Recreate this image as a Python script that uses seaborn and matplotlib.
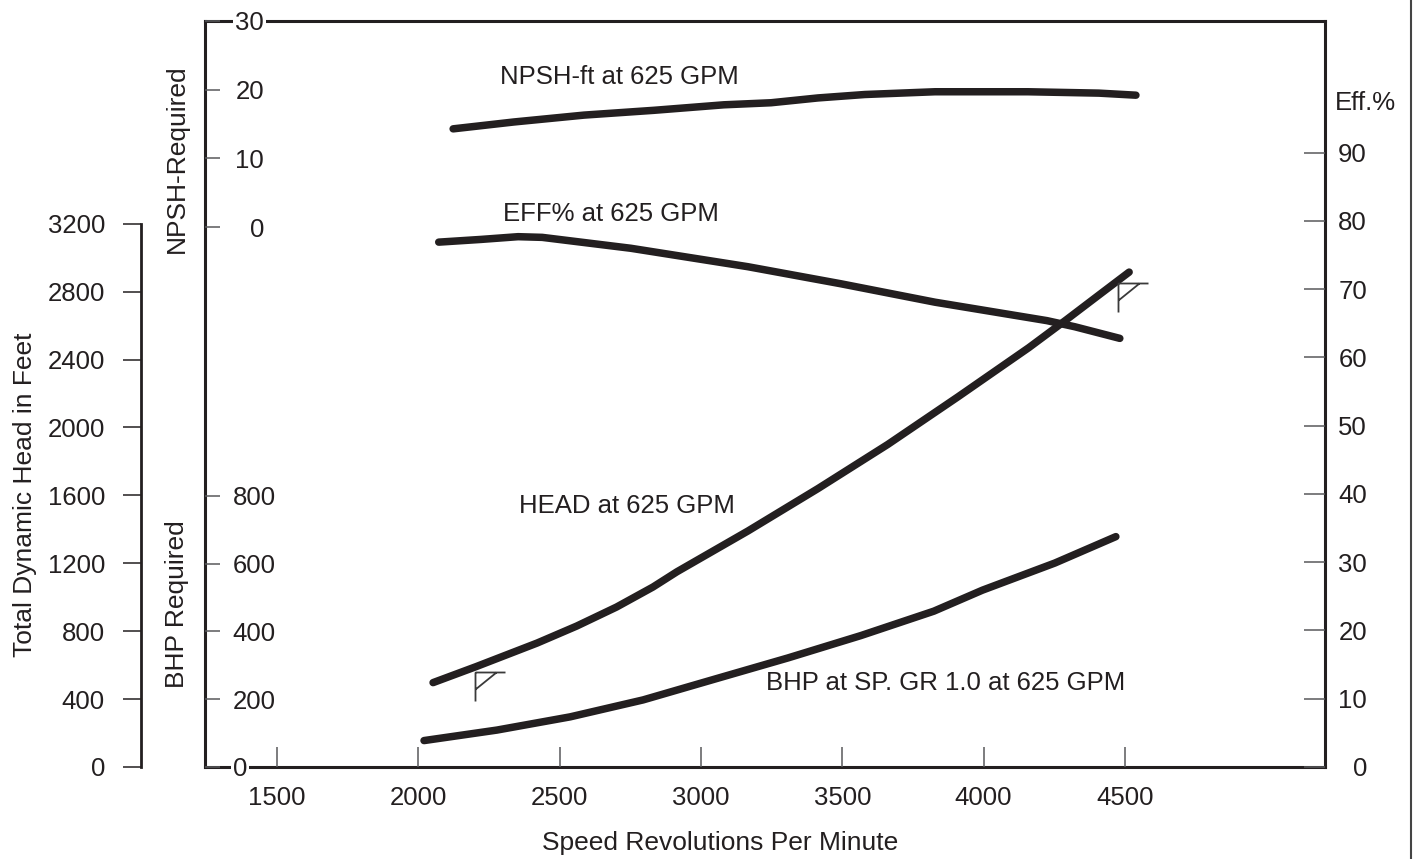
import matplotlib
matplotlib.use("Agg")
import matplotlib.pyplot as plt
from matplotlib.path import Path
from matplotlib.lines import Line2D
import seaborn as sns

# Pump performance at 625 GPM against shaft speed
npsh_rpm = [2123, 2338, 2586, 2834, 3081, 3248, 3414, 3580, 3828, 4157, 4408, 4539]
npsh_ft = [14.3, 15.3, 16.3, 17.0, 17.8, 18.1, 18.8, 19.3, 19.7, 19.7, 19.5, 19.2]

eff_rpm = [2072, 2222, 2353, 2438, 2752, 3166, 3495, 3828, 4224, 4323, 4482]
eff_pct = [76.9, 77.3, 77.7, 77.6, 76.0, 73.3, 70.8, 68.1, 65.4, 64.5, 62.8]

head_rpm = [2052, 2204, 2420, 2560, 2701, 2830, 2915, 3166, 3414, 3661, 3909, 4160, 4291, 4408, 4515]
head_ft = [497, 591, 730, 830, 942, 1060, 1150, 1390, 1640, 1900, 2180, 2470, 2632, 2780, 2915]

bhp_rpm = [2020, 2278, 2537, 2795, 3051, 3308, 3566, 3824, 3996, 4252, 4468]
bhp_hp = [78, 109, 148, 198, 260, 322, 388, 460, 522, 602, 680]

# operating-limit flags on the head curve
flag_rpm = [2200, 4475]
flag_head = [560, 2850]

speed_ticks = [1500, 2000, 2500, 3000, 3500, 4000, 4500]
npsh_ticks = [0, 10, 20, 30]
bhp_ticks = [0, 200, 400, 600, 800]
eff_ticks = [0, 10, 20, 30, 40, 50, 60, 70, 80, 90]
head_ticks = [0, 400, 800, 1200, 1600, 2000, 2400, 2800, 3200]

sns.set_theme(style="white")
plt.rcParams["font.family"] = ["Liberation Sans", "DejaVu Sans"]

INK = "#231f20"
TICK = "#58595b"
FS = 18.5

W, H = 1414, 859
fig = plt.figure(figsize=(W / 100, H / 100), dpi=100)
ax = fig.add_axes([205 / W, 92 / H, 1120 / W, 746 / H])
ax.set_axisbelow(False)
ax_npsh = ax.twinx()
ax_eff = ax.twinx()
ax_head = ax.twinx()

line_kw = dict(color=INK, linewidth=5.4, legend=False)
sns.lineplot(x=bhp_rpm, y=bhp_hp, ax=ax, **line_kw)
sns.lineplot(x=npsh_rpm, y=npsh_ft, ax=ax_npsh, **line_kw)
sns.lineplot(x=eff_rpm, y=eff_pct, ax=ax_eff, **line_kw)
sns.lineplot(x=head_rpm, y=head_ft, ax=ax_head, **line_kw)

ax.set_xlim(1245, 5208)
ax.set_ylim(0, 2202)
ax_npsh.set_ylim(-78.6, 30)
ax_eff.set_ylim(0, 109.3)
ax_head.set_ylim(0, 4394)
for a in (ax, ax_npsh, ax_eff, ax_head):
    a.set_xlabel("")
    a.set_ylabel("")

# frame
for s in ax.spines.values():
    s.set_color(INK)
    s.set_linewidth(2.2)
for a in (ax_npsh, ax_eff):
    for s in a.spines.values():
        s.set_visible(False)
for name, s in ax_head.spines.items():
    s.set_visible(name == "left")
ax_head.spines["left"].set_position(("outward", 46))
ax_head.spines["left"].set_bounds(0, 3200)
ax_head.spines["left"].set_color(INK)
ax_head.spines["left"].set_linewidth(2.0)

label_box = dict(facecolor="white", edgecolor="none", pad=1.5)

# speed axis
ax.set_xticks(speed_ticks)
ax.tick_params(axis="x", direction="in", length=14.4, width=1.1, color=TICK,
               pad=14, labelsize=FS, labelcolor=INK, bottom=True, top=False)

# BHP axis, labels inside the frame
ax.set_yticks(bhp_ticks)
ax.tick_params(axis="y", direction="in", length=10.8, width=1.1, color=TICK,
               pad=-20, labelsize=FS, labelcolor=INK, left=True, right=False)
for t in ax.get_yticklabels():
    t.set_ha("left")
    t.set_bbox(label_box)

# NPSH axis, labels inside the frame
ax_npsh.yaxis.set_ticks_position("left")
ax_npsh.set_yticks(npsh_ticks)
ax_npsh.tick_params(axis="y", direction="in", length=10.8, width=1.1, color=TICK,
                    pad=-42.5, labelsize=FS, labelcolor=INK)
for t in ax_npsh.get_yticklabels():
    t.set_ha("right")
    t.set_bbox(label_box)

# efficiency axis
ax_eff.set_yticks(eff_ticks)
ax_eff.tick_params(axis="y", direction="in", length=15, width=1.1, color=TICK,
                   pad=30.2, labelsize=FS, labelcolor=INK, right=True, left=False)
for t in ax_eff.get_yticklabels():
    t.set_ha("right")

# total dynamic head axis
ax_head.yaxis.set_ticks_position("left")
ax_head.set_yticks(head_ticks)
ax_head.tick_params(axis="y", direction="out", length=13, width=1.1, color=INK,
                    pad=13, labelsize=FS, labelcolor=INK)

# flags
flag_path = Path([(0, 0), (0, -29), (0, 0), (30, 0), (0, -17), (21, 0)],
                 [Path.MOVETO, Path.LINETO, Path.MOVETO, Path.LINETO,
                  Path.MOVETO, Path.LINETO])
ax_head.plot(flag_rpm, flag_head, linestyle="none", marker=flag_path,
             markersize=43.2, markerfacecolor="none", markeredgecolor="#3a3a3a",
             markeredgewidth=1.3)

# curve captions
cap_kw = dict(ha="left", va="center", fontsize=FS, color=INK)
ax_npsh.text(2289, 21.8, "NPSH-ft at 625 GPM", **cap_kw)
ax_eff.text(2300, 81.0, "EFF% at 625 GPM", **cap_kw)
ax_head.text(2356, 1537, "HEAD at 625 GPM", **cap_kw)
ax.text(3230, 248, "BHP at SP. GR 1.0 at 625 GPM", **cap_kw)

# axis titles
tkw = dict(fontsize=19, color=INK, ha="center", va="center")
fig.text(25 / W, 1 - 495 / H, "Total Dynamic Head in Feet", rotation=90, **tkw)
fig.text(177 / W, 1 - 159 / H, "NPSH-Required", rotation=90, **tkw)
fig.text(177 / W, 1 - 604 / H, "BHP Required", rotation=90, **tkw)
fig.text(720.5 / W, 1 - 843 / H, "Speed Revolutions Per Minute", **tkw)
fig.text(1335 / W, 1 - 103 / H, "Eff.%", fontsize=FS, color=INK, ha="left", va="center")

fig.add_artist(Line2D([1411 / W, 1411 / W], [0, 1], color="#444444", linewidth=1.5))

fig.savefig("out.png", dpi=100)
